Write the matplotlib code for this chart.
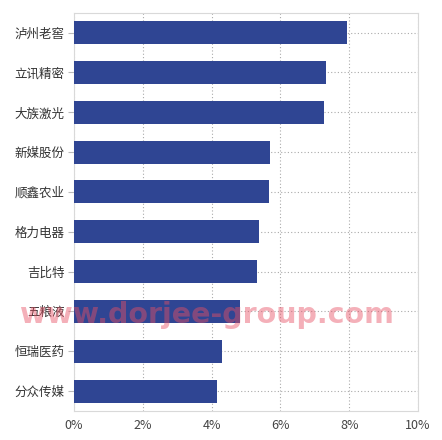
import matplotlib
matplotlib.use("Agg")
import matplotlib.pyplot as plt
from matplotlib.ticker import FuncFormatter

plt.rcParams['font.family'] = ['Noto Sans CJK SC', 'DejaVu Sans']

categories = ["泸州老窖", "立讯精密", "大族激光", "新媒股份", "顺鑫农业",
              "格力电器", "吉比特", "五粮液", "恒瑞医药", "分众传媒"]
values = [7.95, 7.33, 7.28, 5.69, 5.66, 5.37, 5.31, 4.83, 4.31, 4.17]
xticks = [0, 2, 4, 6, 8, 10]

fig = plt.figure(figsize=(4.42, 4.40), dpi=100)
ax = fig.add_axes([74/442, 1-411/440, (418-74)/442, (411-12.7)/440])

ypos = list(range(len(categories)))
ax.barh(ypos, values, height=0.58, color='#2F4593', zorder=3)
ax.set_ylim(len(categories)-0.5, -0.5)
ax.set_xlim(0, 10)
ax.set_yticks(ypos)
ax.set_yticklabels(categories)
ax.set_xticks(xticks)
ax.xaxis.set_major_formatter(FuncFormatter(lambda v, p: f"{v:.0f}%"))

ax.grid(True, axis='both', linestyle=(0, (1, 2)), color='#aaaaaa', linewidth=0.8, zorder=0)
for s in ax.spines.values():
    s.set_color('#d9d9d9')
    s.set_linewidth(0.8)
ax.tick_params(axis='y', length=4, color='#bbbbbb', labelsize=9, labelcolor='#333333', pad=3)
ax.tick_params(axis='x', length=0, labelsize=9, labelcolor='#444444', pad=6)

fig.text(206.5/442, 1-323/440, "www.dorjee-group.com", fontsize=20.5, fontweight='bold',
         color=(232/255, 80/255, 100/255), alpha=0.45, ha='center', va='baseline',
         family=['DejaVu Sans'], zorder=10)

fig.savefig("out.png", dpi=100)
